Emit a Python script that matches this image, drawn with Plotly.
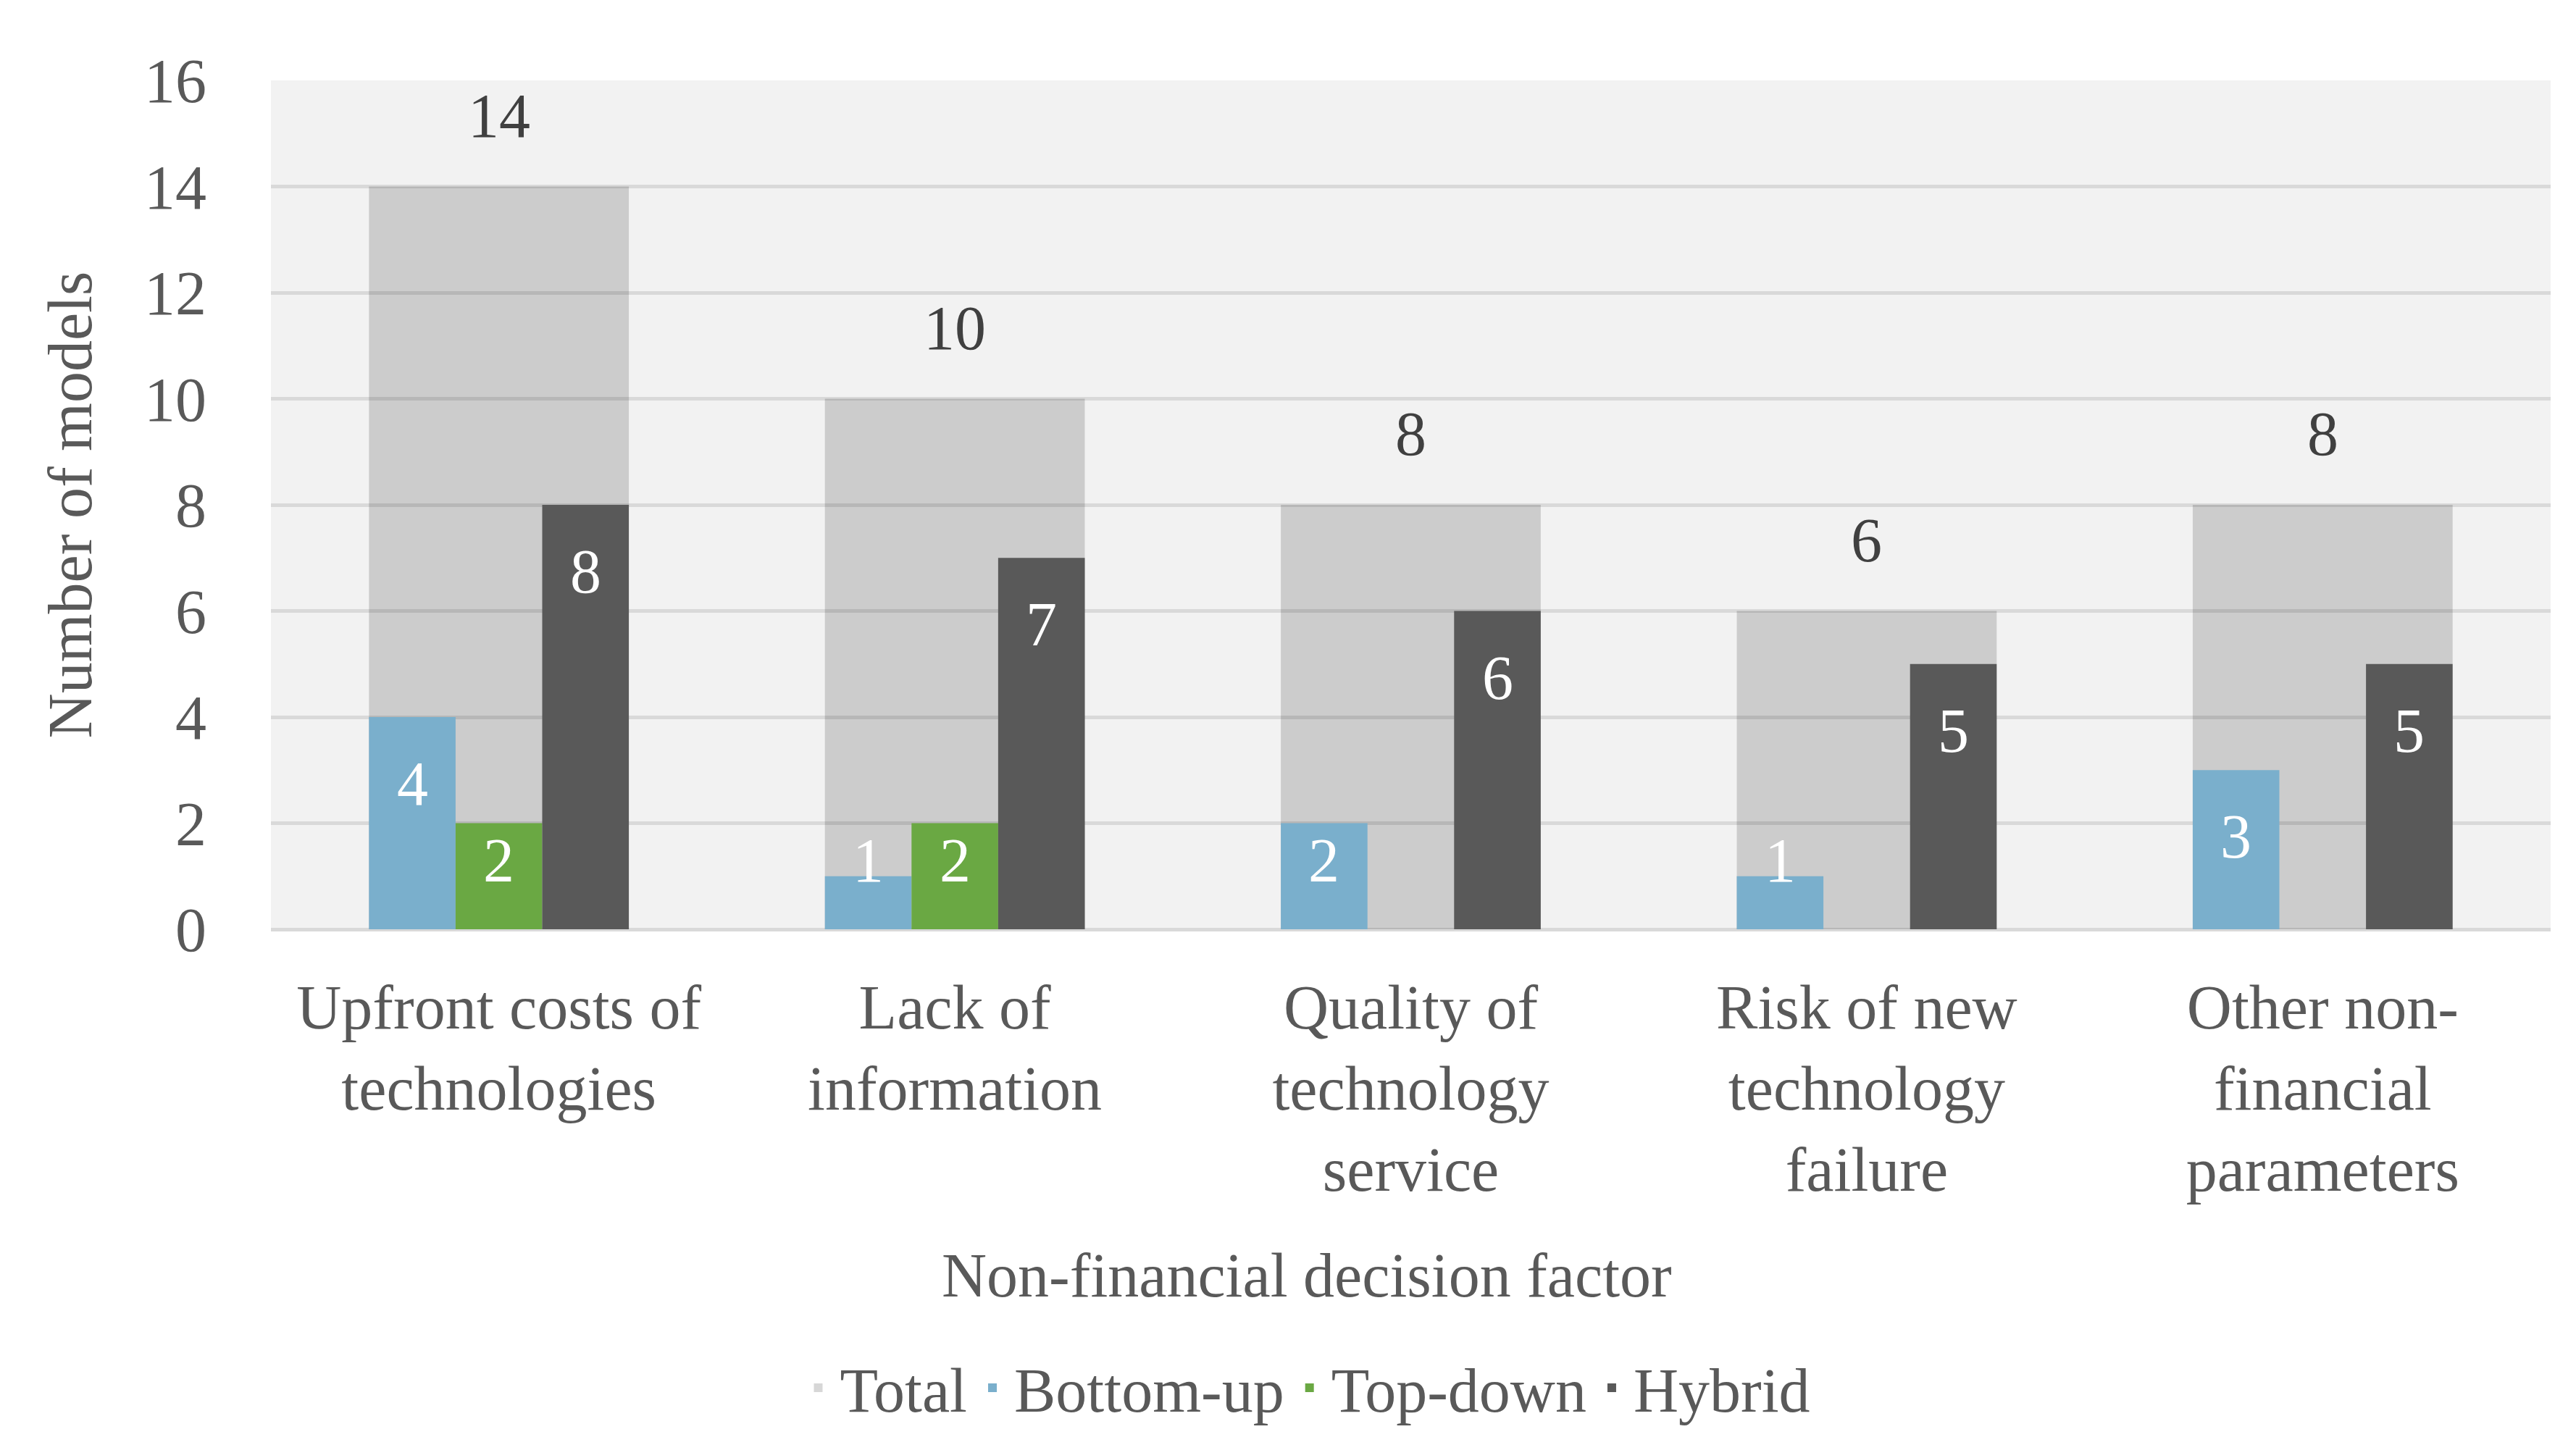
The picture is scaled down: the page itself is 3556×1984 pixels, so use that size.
import plotly.graph_objects as go

categories = ["Upfront costs of<br>technologies", "Lack of<br>information",
              "Quality of<br>technology<br>service", "Risk of new<br>technology<br>failure",
              "Other non-<br>financial<br>parameters"]
total = [14, 10, 8, 6, 8]
bottom_up = [4, 1, 2, 1, 3]
top_down = [2, 2, 0, 0, 0]
hybrid = [8, 7, 6, 5, 5]
y_ticks = [0, 2, 4, 6, 8, 10, 12, 14, 16]

FONT = "Liberation Serif"
FS = 86
GREY_TXT = "#595959"

W, H = 3556, 1984
ML, MR, MT, MB = 366, 43, 103, 709
PW, PH = W - ML - MR, H - MT - MB

fig = go.Figure()
WIDE = 0.57
NARROW = WIDE / 3
fig.add_trace(go.Bar(name="Total", x=categories, y=total, width=WIDE, offset=-WIDE / 2,
                     marker=dict(color="rgba(0,0,0,0.157)", line=dict(width=0))))
series = [("Bottom-up", bottom_up, "#7AAFCC"), ("Top-down", top_down, "#6AA843"),
          ("Hybrid", hybrid, "#595959")]
annotations = []
for k, (name, vals, col) in enumerate(series):
    off = -WIDE / 2 + k * NARROW
    fig.add_trace(go.Bar(name=name, x=categories, y=vals, width=NARROW, offset=off,
                         marker=dict(color=col, line=dict(width=0))))
    for i, v in enumerate(vals):
        if v:
            annotations.append(dict(x=i + off + NARROW / 2, y=max(v, 2.55), xref="x", yref="y",
                                    text=str(v), showarrow=False, yanchor="middle", yshift=-92,
                                    font=dict(family=FONT, size=FS, color="white")))
for i, v in enumerate(total):
    annotations.append(dict(x=i, y=v, xref="x", yref="y", text=str(v), showarrow=False,
                            yanchor="middle", yshift=98,
                            font=dict(family=FONT, size=FS, color="#404040")))

annotations.append(dict(x=(1796 - ML) / PW, y=-(1753 - (MT + PH)) / PH, xref="paper", yref="paper",
                        text="Non-financial decision factor", showarrow=False,
                        xanchor="center", yanchor="middle",
                        font=dict(family=FONT, size=FS, color=GREY_TXT)))

fig.update_layout(
    width=W, height=H,
    margin=dict(l=ML, r=MR, t=MT, b=MB, autoexpand=False),
    barmode="overlay",
    paper_bgcolor="white", plot_bgcolor="#F2F2F2",
    font=dict(family=FONT, size=FS, color=GREY_TXT),
    showlegend=True,
    legend=dict(orientation="h", x=(1794 - ML) / PW, xanchor="center",
                y=-(1908 - (MT + PH)) / PH, yanchor="middle",
                font=dict(family=FONT, size=FS, color=GREY_TXT),
                traceorder="normal", itemwidth=50, bgcolor="rgba(0,0,0,0)"),
    annotations=annotations,
    xaxis=dict(type="category", range=[-0.5, 4.5], showgrid=False, zeroline=False,
               showline=False, ticks="", ticklabelstandoff=50,
               tickfont=dict(family=FONT, size=FS, color=GREY_TXT)),
    yaxis=dict(range=[0, 16], tickvals=y_ticks, showgrid=True, gridcolor="#D9D9D9", gridwidth=5,
               zeroline=True, zerolinecolor="#D9D9D9", zerolinewidth=5, showline=False,
               ticks="", ticklabelstandoff=88,
               tickfont=dict(family=FONT, size=FS, color=GREY_TXT),
               title=dict(text="Number of models", standoff=43,
                          font=dict(family=FONT, size=FS, color=GREY_TXT))),
)

fig.write_html("out.html")
